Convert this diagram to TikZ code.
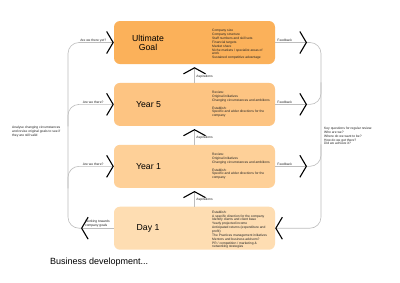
\documentclass[tikz,border=0pt]{standalone}
\usepackage{fontspec}
\setmainfont{Liberation Sans}
\usetikzlibrary{arrows.meta,positioning,calc}
\definecolor{GoalFill}{HTML}{FBB15A}
\definecolor{FiveFill}{HTML}{FDC482}
\definecolor{OneFill} {HTML}{FED098}
\definecolor{DayFill} {HTML}{FEDDB2}
\definecolor{LinkGrey}{HTML}{BDBDBD}
\definecolor{NoteText}{HTML}{222222}

\begin{document}
\begin{tikzpicture}[x=1pt,y=-1pt,
  stagebox/.style={rectangle,rounded corners=6pt,minimum width=161pt,
                   minimum height=43pt,inner sep=0pt},
  stagetitle/.style={font=\fontsize{8.7}{9}\selectfont,align=center,text=black},
  notes/.style={font=\fontsize{3.3}{3.85}\selectfont,align=left,text=NoteText,inner sep=0pt},
  tag/.style={font=\fontsize{3.3}{3.85}\selectfont,align=left,text=NoteText,inner sep=0.4pt},
  link/.style={draw=LinkGrey,line width=0.6pt},
  chev/.tip={Straight Barb[length=6.5pt,width=22pt,line width=1.1pt,color=black]},
  upchev/.tip={Straight Barb[length=6pt,width=22pt,line width=1.1pt,color=black]},
  node distance=18.5pt]
  \fill[white] (0,0) rectangle (400,282);
  \useasboundingbox (0,0) rectangle (400,282);

  % stages
  \node[stagebox,fill=GoalFill] (goal) at (194.5,42.5) {};
  \node[stagebox,fill=FiveFill,below=of goal] (year5) {};
  \node[stagebox,fill=OneFill,below=of year5] (year1) {};
  \node[stagebox,fill=DayFill,below=of year1] (day1) {};

  \node[stagetitle] (goaltitle) at ([xshift=-46.5pt]goal.center) {Ultimate\\Goal};
  \node[stagetitle] (year5title) at ([xshift=-46pt]year5.center) {Year 5};
  \node[stagetitle] (year1title) at ([xshift=-46pt]year1.center) {Year 1};
  \node[stagetitle] (day1title) at ([xshift=-46.5pt]day1.center) {Day 1};

  \node[notes,anchor=west] (goalnotes) at ([xshift=17.5pt,yshift=-2pt]goal.center) {%
    Company size\\Company structure\\Staff numbers and skill sets\\Financial targets\\
    Market share\\Niche markets / specialist areas of\\work\\Sustained competitive advantage};
  \node[notes,anchor=west] (year5notes) at ([xshift=17.5pt]year5.center) {%
    Review:\\Original initiatives\\Changing circumstances and ambitions\\[3.85pt]
    Establish:\\Specific and wider directions for the\\company};
  \node[notes,anchor=west] (year1notes) at ([xshift=17.5pt]year1.center) {%
    Review:\\Original initiatives\\Changing circumstances and ambitions\\[3.85pt]
    Establish:\\Specific and wider directions for the\\company};
  \node[notes,anchor=west] (day1notes) at ([xshift=17.5pt,yshift=-1.5pt]day1.center) {%
    Establish:\\A specific direction for the company\\Identify clients and client base\\
    Yearly projected income\\Anticipated returns (expenditure and\\profit)\\
    The Practices management initiatives\\Mentors and business advisors?\\
    PR / competition / marketing \&\\networking strategies};

  % bracket positions
  \coordinate (lx) at (68,0);
  \coordinate (ltip) at (81,0);
  \coordinate (rx) at (321,0);
  \coordinate (rtip) at (307,0);

  % left side
  \draw[link,-chev] (day1.west) -- node[tag,pos=0.5,above]{Working towards\\company goals} (day1.west -| ltip);
  \draw[link,rounded corners=11pt,-chev] (day1.west -| ltip) -- (day1.west -| lx) -- (goal.west -| lx)
    -- node[tag,pos=0.55,above]{Are we there yet?} (goal.west);
  \foreach \b in {year5,year1}
    \draw[link,rounded corners=11pt,-chev] ($(\b.west -| lx)+(0,22)$) -- (\b.west -| lx)
      -- node[tag,pos=0.55,above]{Are we there?} (\b.west);

  % right side
  \foreach \b in {goal,year5,year1}
    \draw[link,-chev] (\b.east) -- node[tag,pos=0.3,above]{Feedback} (\b.east -| rtip);
  \draw[link,rounded corners=11pt,-chev] (goal.east -| rtip) -- (goal.east -| rx) -- (day1.east -| rx) -- (day1.east);
  \foreach \b in {year5,year1}
    \draw[link,rounded corners=11pt] (\b.east -| rtip) -- (\b.east -| rx) -- ($(\b.east -| rx)+(0,-22)$);

  % aspirations
  \foreach \lo/\hi in {year5/goal,year1/year5,day1/year1}
    \draw[link,-upchev,shorten >=3pt] (\lo.north) -- node[tag,pos=0.35,right,xshift=1.2pt]{Aspirations} (\hi.south);

  \node[notes,anchor=north west] (reviewnote) at (12,126) {%
    Analyse changing circumstances\\and revise original  goals to see if\\they are still valid};
  \node[notes,anchor=north west] (questions) at (324,127) {%
    Key questions for regular review:\\Who are we?\\Where do we want to be?\\How do we get there?\\Did we achieve it?};
  \node[anchor=west,font=\fontsize{9}{10}\selectfont,inner sep=0pt] (caption) at (50,262) {Business development...};
\end{tikzpicture}
\end{document}
